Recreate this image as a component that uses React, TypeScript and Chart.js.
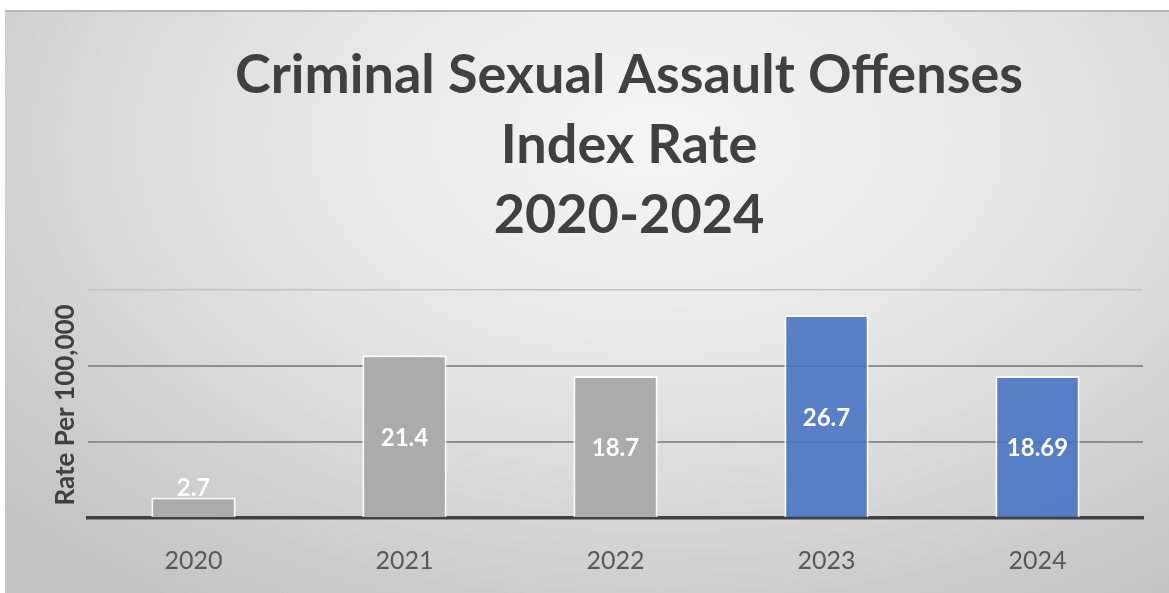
import React, { useEffect, useRef } from "react";
import { Chart, registerables } from "chart.js";

Chart.register(...registerables);

const categories = ["2020", "2021", "2022", "2023", "2024"];
const rateValues = [2.7, 21.4, 18.7, 26.7, 18.69];
const valueLabels = ["2.7", "21.4", "18.7", "26.7", "18.69"];
const barColors = ["#aeaaaa", "#aeaaaa", "#aeaaaa", "rgba(68,114,196,0.88)", "rgba(68,114,196,0.88)"];
const titleLines = ["Criminal Sexual Assault Offenses", "Index Rate", "2020-2024"];
const yAxisTitle = "Rate Per 100,000";
const yMax = 30;
const yStep = 10;

const FONT = "Lato, 'Open Sans', sans-serif";

export default function App() {
  const canvasRef = useRef<HTMLCanvasElement | null>(null);

  useEffect(() => {
    const canvas = canvasRef.current;
    if (!canvas) return;

    const overlayPlugin = {
      id: "overlay",
      afterDatasetsDraw(chart: any) {
        const ctx = chart.ctx;
        const meta = chart.getDatasetMeta(0);
        ctx.save();
        ctx.fillStyle = "#ffffff";
        ctx.font = `bold 24px ${FONT}`;
        ctx.textAlign = "center";
        ctx.textBaseline = "middle";
        meta.data.forEach((el: any, i: number) => {
          const h = el.base - el.y;
          const y = h < 40 ? el.y - 9 : (el.y + el.base) / 2 + 2;
          ctx.fillText(valueLabels[i], el.x, y);
        });
        ctx.restore();
      },
      afterDraw(chart: any) {
        const ctx = chart.ctx;
        ctx.save();
        ctx.fillStyle = "#404040";
        ctx.textAlign = "center";
        ctx.textBaseline = "middle";
        ctx.font = `bold 54px ${FONT}`;
        titleLines.forEach((t, i) => {
          ctx.fillText(t, 624, 66 + i * 70);
        });
        const area = chart.chartArea;
        ctx.translate(61, (area.top + area.bottom) / 2 + 1);
        ctx.rotate(-Math.PI / 2);
        ctx.font = `bold 26px ${FONT}`;
        ctx.fillText(yAxisTitle, 0, 0);
        ctx.restore();
      },
    };

    const chart = new Chart(canvas, {
      type: "bar",
      data: {
        labels: categories,
        datasets: [
          {
            data: rateValues,
            backgroundColor: barColors,
            borderColor: "rgba(255,255,255,0.85)",
            borderWidth: 2,
            borderSkipped: "bottom",
            categoryPercentage: 1,
            barPercentage: 0.4,
          },
        ],
      },
      options: {
        animation: false,
        responsive: true,
        maintainAspectRatio: false,
        layout: { padding: { left: 83, right: 26, top: 280, bottom: 0 } },
        plugins: {
          legend: { display: false },
          title: { display: false },
          tooltip: { enabled: false },
        },
        scales: {
          x: {
            grid: { display: false },
            border: { display: true, color: "#404040", width: 3.5 },
            ticks: {
              color: "#595959",
              font: { family: FONT, size: 25 },
              padding: 20,
            },
            afterFit: (s: any) => {
              s.height = 73;
            },
          },
          y: {
            min: 0,
            max: yMax,
            ticks: { display: false, stepSize: yStep },
            border: { display: false },
            grid: {
              drawTicks: false,
              color: (c: any) =>
                c.tick.value === 0 ? "rgba(0,0,0,0)" : c.tick.value === yMax ? "#c4c4c4" : "#8f8f8f",
              lineWidth: (c: any) => (c.tick.value === yMax ? 1.5 : 2),
            },
            afterFit: (s: any) => {
              s.width = 0;
            },
          },
        },
      },
      plugins: [overlayPlugin],
    });

    return () => chart.destroy();
  }, []);

  return (
    <div
      style={{
        position: "absolute",
        left: 0,
        top: 0,
        width: 1169,
        height: 593,
        background: "#ffffff",
        overflow: "hidden",
      }}
    >
      <div
        style={{
          position: "absolute",
          left: 5,
          top: 10,
          width: 1164,
          height: 583,
          borderTop: "2px solid #b8b8b8",
          boxSizing: "border-box",
          background:
            "radial-gradient(ellipse 75% 95% at 56% 22%, #f5f5f5 0%, #ebebeb 30%, #dcdcdc 60%, #cccccc 85%, #c4c4c4 100%)",
        }}
      >
        <canvas ref={canvasRef} style={{ position: "absolute", left: 0, top: -2, width: 1164, height: 583 }} />
      </div>
    </div>
  );
}
